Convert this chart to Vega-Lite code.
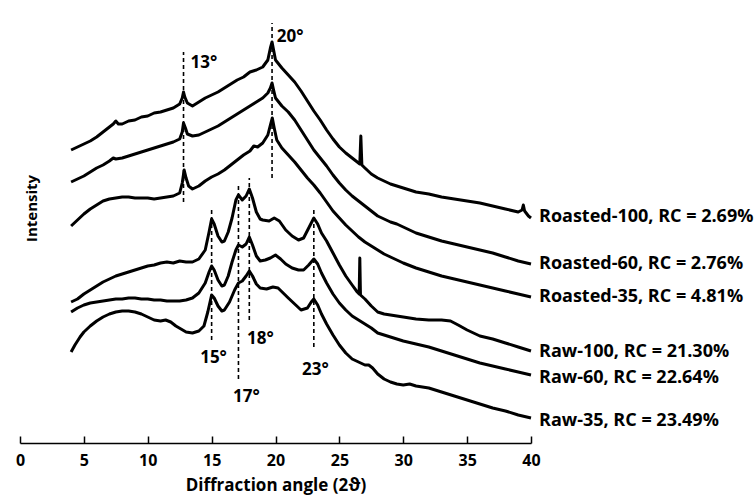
{
"$schema":"https://vega.github.io/schema/vega-lite/v6.json",
"width":511,"height":443,
"autosize":{"type":"none"},
"padding":{"left":20,"top":0,"right":225,"bottom":60},
"background":"white",
"config":{"view":{"stroke":null},"font":"Open Sans"},
"datasets":{
"curves":[
{"s":"A","a":4.0,"v":293},{"s":"A","a":4.5,"v":296},{"s":"A","a":5.0,"v":299},{"s":"A","a":5.5,"v":302},{"s":"A","a":6.0,"v":306},{"s":"A","a":6.5,"v":311},{"s":"A","a":7.0,"v":316},{"s":"A","a":7.3,"v":319},{"s":"A","a":7.5,"v":322},{"s":"A","a":7.7,"v":319},{"s":"A","a":8.0,"v":319},{"s":"A","a":8.5,"v":322},{"s":"A","a":9.0,"v":323},{"s":"A","a":9.5,"v":326},{"s":"A","a":10.0,"v":327},{"s":"A","a":10.5,"v":330},{"s":"A","a":11.0,"v":331},{"s":"A","a":11.5,"v":333},{"s":"A","a":12.0,"v":335},{"s":"A","a":12.5,"v":339},{"s":"A","a":12.7,"v":345},{"s":"A","a":12.8,"v":351},{"s":"A","a":12.9,"v":346},{"s":"A","a":13.1,"v":340},{"s":"A","a":13.5,"v":337},{"s":"A","a":14.0,"v":341},{"s":"A","a":14.5,"v":345},{"s":"A","a":15.0,"v":348},{"s":"A","a":15.5,"v":351},{"s":"A","a":16.0,"v":355},{"s":"A","a":16.5,"v":359},{"s":"A","a":17.0,"v":363},{"s":"A","a":17.5,"v":366},{"s":"A","a":18.0,"v":371},{"s":"A","a":18.5,"v":373},{"s":"A","a":19.0,"v":376},{"s":"A","a":19.4,"v":383},{"s":"A","a":19.6,"v":395},{"s":"A","a":19.73,"v":401},{"s":"A","a":19.85,"v":393},{"s":"A","a":20.0,"v":383},{"s":"A","a":20.5,"v":375},{"s":"A","a":21.0,"v":368},{"s":"A","a":21.5,"v":361},{"s":"A","a":22.0,"v":352},{"s":"A","a":22.5,"v":342},{"s":"A","a":23.0,"v":332},{"s":"A","a":23.5,"v":323},{"s":"A","a":24.0,"v":313},{"s":"A","a":24.5,"v":304},{"s":"A","a":25.0,"v":296},{"s":"A","a":25.5,"v":290},{"s":"A","a":26.0,"v":285},{"s":"A","a":26.6,"v":279},{"s":"A","a":26.68,"v":307},{"s":"A","a":26.76,"v":278},{"s":"A","a":27.0,"v":275},{"s":"A","a":27.5,"v":269},{"s":"A","a":28.0,"v":265},{"s":"A","a":28.5,"v":262},{"s":"A","a":29.0,"v":259},{"s":"A","a":29.5,"v":257},{"s":"A","a":30.0,"v":255},{"s":"A","a":31.0,"v":251},{"s":"A","a":32.0,"v":249},{"s":"A","a":33.0,"v":246},{"s":"A","a":34.0,"v":244},{"s":"A","a":35.0,"v":242},{"s":"A","a":36.0,"v":240},{"s":"A","a":37.0,"v":237},{"s":"A","a":38.0,"v":234},{"s":"A","a":39.0,"v":231},{"s":"A","a":39.3,"v":233},{"s":"A","a":39.4,"v":238},{"s":"A","a":39.5,"v":232},{"s":"A","a":39.8,"v":227},{"s":"A","a":40.0,"v":225},
{"s":"B","a":4.0,"v":261},{"s":"B","a":4.5,"v":264},{"s":"B","a":5.0,"v":267},{"s":"B","a":5.5,"v":271},{"s":"B","a":6.0,"v":275},{"s":"B","a":6.5,"v":278},{"s":"B","a":7.0,"v":282},{"s":"B","a":7.3,"v":285},{"s":"B","a":7.5,"v":284},{"s":"B","a":8.0,"v":285},{"s":"B","a":8.5,"v":287},{"s":"B","a":9.0,"v":289},{"s":"B","a":9.5,"v":291},{"s":"B","a":10.0,"v":293},{"s":"B","a":10.5,"v":295},{"s":"B","a":11.0,"v":297},{"s":"B","a":11.5,"v":299},{"s":"B","a":12.0,"v":301},{"s":"B","a":12.5,"v":304},{"s":"B","a":12.7,"v":311},{"s":"B","a":12.8,"v":320},{"s":"B","a":12.95,"v":315},{"s":"B","a":13.1,"v":309},{"s":"B","a":13.5,"v":307},{"s":"B","a":14.0,"v":308},{"s":"B","a":14.5,"v":311},{"s":"B","a":15.0,"v":314},{"s":"B","a":15.5,"v":317},{"s":"B","a":16.0,"v":321},{"s":"B","a":16.5,"v":325},{"s":"B","a":17.0,"v":329},{"s":"B","a":17.5,"v":333},{"s":"B","a":18.0,"v":337},{"s":"B","a":18.5,"v":341},{"s":"B","a":19.0,"v":345},{"s":"B","a":19.4,"v":350},{"s":"B","a":19.6,"v":355},{"s":"B","a":19.73,"v":360},{"s":"B","a":19.85,"v":353},{"s":"B","a":20.0,"v":345},{"s":"B","a":20.5,"v":337},{"s":"B","a":21.0,"v":331},{"s":"B","a":21.5,"v":323},{"s":"B","a":22.0,"v":313},{"s":"B","a":22.5,"v":303},{"s":"B","a":23.0,"v":293},{"s":"B","a":23.5,"v":285},{"s":"B","a":24.0,"v":277},{"s":"B","a":24.5,"v":268},{"s":"B","a":25.0,"v":260},{"s":"B","a":25.5,"v":253},{"s":"B","a":26.0,"v":247},{"s":"B","a":26.5,"v":242},{"s":"B","a":27.0,"v":237},{"s":"B","a":27.5,"v":232},{"s":"B","a":28.0,"v":227},{"s":"B","a":28.5,"v":224},{"s":"B","a":29.0,"v":221},{"s":"B","a":29.5,"v":219},{"s":"B","a":30.0,"v":216},{"s":"B","a":31.0,"v":210},{"s":"B","a":32.0,"v":206},{"s":"B","a":33.0,"v":202},{"s":"B","a":34.0,"v":199},{"s":"B","a":35.0,"v":196},{"s":"B","a":36.0,"v":193},{"s":"B","a":37.0,"v":190},{"s":"B","a":38.0,"v":186},{"s":"B","a":39.0,"v":182},{"s":"B","a":40.0,"v":179},
{"s":"C","a":4.0,"v":217},{"s":"C","a":4.5,"v":223},{"s":"C","a":5.0,"v":229},{"s":"C","a":5.5,"v":234},{"s":"C","a":6.0,"v":238},{"s":"C","a":6.5,"v":242},{"s":"C","a":7.0,"v":244},{"s":"C","a":7.5,"v":245},{"s":"C","a":8.0,"v":246},{"s":"C","a":8.5,"v":246},{"s":"C","a":9.0,"v":245},{"s":"C","a":9.5,"v":245},{"s":"C","a":10.0,"v":245},{"s":"C","a":10.5,"v":244},{"s":"C","a":11.0,"v":245},{"s":"C","a":11.5,"v":246},{"s":"C","a":12.0,"v":247},{"s":"C","a":12.5,"v":250},{"s":"C","a":12.7,"v":260},{"s":"C","a":12.85,"v":273},{"s":"C","a":13.0,"v":265},{"s":"C","a":13.2,"v":257},{"s":"C","a":13.5,"v":254},{"s":"C","a":14.0,"v":257},{"s":"C","a":14.5,"v":262},{"s":"C","a":15.0,"v":266},{"s":"C","a":15.5,"v":269},{"s":"C","a":16.0,"v":273},{"s":"C","a":16.5,"v":278},{"s":"C","a":17.0,"v":283},{"s":"C","a":17.5,"v":288},{"s":"C","a":18.0,"v":292},{"s":"C","a":18.3,"v":297},{"s":"C","a":18.6,"v":296},{"s":"C","a":19.0,"v":300},{"s":"C","a":19.4,"v":308},{"s":"C","a":19.6,"v":318},{"s":"C","a":19.75,"v":325},{"s":"C","a":19.9,"v":315},{"s":"C","a":20.1,"v":303},{"s":"C","a":20.5,"v":295},{"s":"C","a":21.0,"v":288},{"s":"C","a":21.5,"v":281},{"s":"C","a":22.0,"v":273},{"s":"C","a":22.5,"v":265},{"s":"C","a":23.0,"v":258},{"s":"C","a":23.5,"v":250},{"s":"C","a":24.0,"v":241},{"s":"C","a":24.5,"v":232},{"s":"C","a":25.0,"v":225},{"s":"C","a":25.5,"v":218},{"s":"C","a":26.0,"v":212},{"s":"C","a":26.5,"v":206},{"s":"C","a":27.0,"v":201},{"s":"C","a":27.5,"v":197},{"s":"C","a":28.0,"v":193},{"s":"C","a":28.5,"v":189},{"s":"C","a":29.0,"v":186},{"s":"C","a":29.5,"v":183},{"s":"C","a":30.0,"v":180},{"s":"C","a":31.0,"v":175},{"s":"C","a":32.0,"v":171},{"s":"C","a":33.0,"v":167},{"s":"C","a":34.0,"v":164},{"s":"C","a":35.0,"v":161},{"s":"C","a":36.0,"v":158},{"s":"C","a":37.0,"v":155},{"s":"C","a":38.0,"v":152},{"s":"C","a":39.0,"v":149},{"s":"C","a":40.0,"v":146},
{"s":"D","a":4.0,"v":141},{"s":"D","a":4.5,"v":144},{"s":"D","a":5.0,"v":149},{"s":"D","a":5.5,"v":153},{"s":"D","a":6.0,"v":157},{"s":"D","a":6.5,"v":161},{"s":"D","a":7.0,"v":164},{"s":"D","a":7.5,"v":167},{"s":"D","a":8.0,"v":169},{"s":"D","a":8.5,"v":171},{"s":"D","a":9.0,"v":173},{"s":"D","a":9.5,"v":175},{"s":"D","a":10.0,"v":177},{"s":"D","a":10.5,"v":178},{"s":"D","a":11.0,"v":180},{"s":"D","a":11.5,"v":181},{"s":"D","a":12.0,"v":180},{"s":"D","a":12.5,"v":182},{"s":"D","a":13.0,"v":181},{"s":"D","a":13.5,"v":181},{"s":"D","a":14.0,"v":184},{"s":"D","a":14.5,"v":193},{"s":"D","a":14.8,"v":211},{"s":"D","a":15.0,"v":224},{"s":"D","a":15.2,"v":219},{"s":"D","a":15.5,"v":207},{"s":"D","a":15.8,"v":201},{"s":"D","a":16.0,"v":202},{"s":"D","a":16.3,"v":211},{"s":"D","a":16.6,"v":225},{"s":"D","a":16.9,"v":243},{"s":"D","a":17.1,"v":248},{"s":"D","a":17.4,"v":243},{"s":"D","a":17.7,"v":247},{"s":"D","a":17.95,"v":254},{"s":"D","a":18.2,"v":245},{"s":"D","a":18.5,"v":231},{"s":"D","a":18.8,"v":224},{"s":"D","a":19.0,"v":223},{"s":"D","a":19.5,"v":222},{"s":"D","a":19.9,"v":225},{"s":"D","a":20.3,"v":222},{"s":"D","a":20.8,"v":213},{"s":"D","a":21.3,"v":207},{"s":"D","a":21.8,"v":203},{"s":"D","a":22.2,"v":205},{"s":"D","a":22.6,"v":215},{"s":"D","a":23.0,"v":225},{"s":"D","a":23.3,"v":219},{"s":"D","a":23.6,"v":210},{"s":"D","a":24.0,"v":202},{"s":"D","a":24.5,"v":190},{"s":"D","a":25.0,"v":178},{"s":"D","a":25.5,"v":167},{"s":"D","a":26.0,"v":158},{"s":"D","a":26.4,"v":151},{"s":"D","a":26.55,"v":149},{"s":"D","a":26.6,"v":185},{"s":"D","a":26.65,"v":148},{"s":"D","a":27.0,"v":144},{"s":"D","a":27.5,"v":137},{"s":"D","a":28.0,"v":131},{"s":"D","a":28.5,"v":129},{"s":"D","a":29.0,"v":128},{"s":"D","a":29.5,"v":127},{"s":"D","a":30.0,"v":126},{"s":"D","a":30.5,"v":125},{"s":"D","a":31.0,"v":124},{"s":"D","a":32.0,"v":123},{"s":"D","a":33.0,"v":123},{"s":"D","a":33.7,"v":122},{"s":"D","a":34.3,"v":118},{"s":"D","a":35.0,"v":113},{"s":"D","a":36.0,"v":107},{"s":"D","a":37.0,"v":104},{"s":"D","a":38.0,"v":100},{"s":"D","a":39.0,"v":96},{"s":"D","a":40.0,"v":92},
{"s":"E","a":4.0,"v":131},{"s":"E","a":4.5,"v":135},{"s":"E","a":5.0,"v":138},{"s":"E","a":5.5,"v":140},{"s":"E","a":6.0,"v":141},{"s":"E","a":6.5,"v":142},{"s":"E","a":7.0,"v":143},{"s":"E","a":7.5,"v":144},{"s":"E","a":8.0,"v":144},{"s":"E","a":8.5,"v":145},{"s":"E","a":9.0,"v":145},{"s":"E","a":9.5,"v":144},{"s":"E","a":10.0,"v":144},{"s":"E","a":10.5,"v":143},{"s":"E","a":11.0,"v":143},{"s":"E","a":11.5,"v":142},{"s":"E","a":12.0,"v":142},{"s":"E","a":12.5,"v":142},{"s":"E","a":13.0,"v":143},{"s":"E","a":13.5,"v":145},{"s":"E","a":14.0,"v":150},{"s":"E","a":14.5,"v":160},{"s":"E","a":14.8,"v":171},{"s":"E","a":15.0,"v":177},{"s":"E","a":15.2,"v":173},{"s":"E","a":15.5,"v":163},{"s":"E","a":15.8,"v":157},{"s":"E","a":16.0,"v":158},{"s":"E","a":16.3,"v":167},{"s":"E","a":16.6,"v":181},{"s":"E","a":16.9,"v":193},{"s":"E","a":17.1,"v":198},{"s":"E","a":17.4,"v":196},{"s":"E","a":17.7,"v":199},{"s":"E","a":17.95,"v":206},{"s":"E","a":18.2,"v":198},{"s":"E","a":18.5,"v":187},{"s":"E","a":18.8,"v":182},{"s":"E","a":19.2,"v":183},{"s":"E","a":19.6,"v":185},{"s":"E","a":20.0,"v":188},{"s":"E","a":20.4,"v":184},{"s":"E","a":20.8,"v":179},{"s":"E","a":21.3,"v":175},{"s":"E","a":21.8,"v":173},{"s":"E","a":22.2,"v":173},{"s":"E","a":22.6,"v":178},{"s":"E","a":23.0,"v":184},{"s":"E","a":23.3,"v":179},{"s":"E","a":23.6,"v":170},{"s":"E","a":24.0,"v":160},{"s":"E","a":24.5,"v":149},{"s":"E","a":25.0,"v":140},{"s":"E","a":25.5,"v":133},{"s":"E","a":26.0,"v":127},{"s":"E","a":26.5,"v":123},{"s":"E","a":27.0,"v":119},{"s":"E","a":27.5,"v":115},{"s":"E","a":28.0,"v":110},{"s":"E","a":29.0,"v":106},{"s":"E","a":30.0,"v":102},{"s":"E","a":31.0,"v":99},{"s":"E","a":32.0,"v":96},{"s":"E","a":33.0,"v":92},{"s":"E","a":34.0,"v":88},{"s":"E","a":35.0,"v":84},{"s":"E","a":36.0,"v":80},{"s":"E","a":37.0,"v":77},{"s":"E","a":38.0,"v":74},{"s":"E","a":39.0,"v":71},{"s":"E","a":40.0,"v":68},
{"s":"F","a":4.0,"v":91},{"s":"F","a":4.3,"v":98},{"s":"F","a":4.7,"v":106},{"s":"F","a":5.0,"v":111},{"s":"F","a":5.5,"v":117},{"s":"F","a":6.0,"v":122},{"s":"F","a":6.5,"v":126},{"s":"F","a":7.0,"v":129},{"s":"F","a":7.5,"v":131},{"s":"F","a":8.0,"v":132},{"s":"F","a":8.5,"v":132},{"s":"F","a":9.0,"v":131},{"s":"F","a":9.5,"v":129},{"s":"F","a":10.0,"v":126},{"s":"F","a":10.5,"v":123},{"s":"F","a":11.0,"v":122},{"s":"F","a":11.4,"v":123},{"s":"F","a":11.8,"v":121},{"s":"F","a":12.2,"v":117},{"s":"F","a":12.6,"v":114},{"s":"F","a":13.0,"v":111},{"s":"F","a":13.5,"v":110},{"s":"F","a":14.0,"v":112},{"s":"F","a":14.4,"v":117},{"s":"F","a":14.7,"v":131},{"s":"F","a":15.0,"v":148},{"s":"F","a":15.2,"v":145},{"s":"F","a":15.5,"v":137},{"s":"F","a":15.8,"v":132},{"s":"F","a":16.0,"v":133},{"s":"F","a":16.4,"v":141},{"s":"F","a":16.8,"v":153},{"s":"F","a":17.1,"v":160},{"s":"F","a":17.4,"v":162},{"s":"F","a":17.7,"v":167},{"s":"F","a":17.95,"v":172},{"s":"F","a":18.2,"v":167},{"s":"F","a":18.5,"v":159},{"s":"F","a":18.8,"v":155},{"s":"F","a":19.3,"v":154},{"s":"F","a":19.8,"v":156},{"s":"F","a":20.2,"v":155},{"s":"F","a":20.6,"v":150},{"s":"F","a":21.0,"v":145},{"s":"F","a":21.5,"v":139},{"s":"F","a":22.0,"v":133},{"s":"F","a":22.5,"v":135},{"s":"F","a":22.8,"v":141},{"s":"F","a":23.0,"v":144},{"s":"F","a":23.3,"v":138},{"s":"F","a":23.6,"v":129},{"s":"F","a":24.0,"v":119},{"s":"F","a":24.5,"v":108},{"s":"F","a":25.0,"v":98},{"s":"F","a":25.5,"v":90},{"s":"F","a":26.0,"v":84},{"s":"F","a":26.5,"v":81},{"s":"F","a":27.0,"v":78},{"s":"F","a":27.3,"v":78},{"s":"F","a":27.6,"v":75},{"s":"F","a":28.0,"v":69},{"s":"F","a":28.5,"v":64},{"s":"F","a":29.0,"v":61},{"s":"F","a":29.5,"v":59},{"s":"F","a":30.0,"v":58},{"s":"F","a":30.5,"v":59},{"s":"F","a":31.0,"v":57},{"s":"F","a":32.0,"v":55},{"s":"F","a":33.0,"v":51},{"s":"F","a":34.0,"v":47},{"s":"F","a":35.0,"v":43},{"s":"F","a":36.0,"v":39},{"s":"F","a":37.0,"v":35},{"s":"F","a":38.0,"v":32},{"s":"F","a":39.0,"v":28},{"s":"F","a":40.0,"v":25}
],
"dashes":[
{"a":12.8,"lo":241,"hi":391},
{"a":19.73,"lo":265,"hi":420},
{"a":15.0,"lo":103,"hi":235},
{"a":17.1,"lo":64,"hi":260},
{"a":17.95,"lo":123,"hi":265},
{"a":23.0,"lo":96,"hi":236}
],
"degs":[
{"a":14.4,"v":380,"t":"13°"},
{"a":21.15,"v":406,"t":"20°"},
{"a":15.15,"v":85,"t":"15°"},
{"a":17.72,"v":46,"t":"17°"},
{"a":18.82,"v":104,"t":"18°"},
{"a":23.12,"v":73,"t":"23°"}
],
"names":[
{"a":40,"v":226,"t":"Roasted-100, RC = 2.69%"},
{"a":40,"v":179,"t":"Roasted-60, RC = 2.76%"},
{"a":40,"v":146,"t":"Roasted-35, RC = 4.81%"},
{"a":40,"v":91,"t":"Raw-100, RC = 21.30%"},
{"a":40,"v":65,"t":"Raw-60, RC = 22.64%"},
{"a":40,"v":22,"t":"Raw-35, RC = 23.49%"}
]
},
"layer":[
{"data":{"name":"curves"},
 "mark":{"type":"line","color":"black","strokeWidth":3,"strokeJoin":"round","clip":false},
 "encoding":{
  "x":{"field":"a","type":"quantitative","scale":{"domain":[0,40],"nice":false,"zero":false},
   "axis":{"values":[0,5,10,15,20,25,30,35,40],"title":"Diffraction angle (2ϑ)","grid":false,
    "domainColor":"black","domainWidth":1.5,"tickColor":"black","tickWidth":1.5,"tickSize":-7,
    "labelPadding":16,"labelFont":"Open Sans","labelFontSize":16,"labelFontWeight":"bold","labelColor":"black","labelFlush":false,
    "titleFont":"Open Sans","titleFontSize":17,"titleFontWeight":"bold","titleColor":"black","titlePadding":9}},
  "y":{"field":"v","type":"quantitative","scale":{"domain":[0,443],"nice":false,"zero":false},
   "axis":{"title":"Intensity","domain":false,"ticks":false,"labels":false,"grid":false,
    "titleAngle":-90,"titleX":11,"titleY":208,"titleAlign":"center","titleBaseline":"middle",
    "titleFont":"Open Sans","titleFontSize":15,"titleFontWeight":"bold","titleColor":"black"}},
  "detail":{"field":"s","type":"nominal"}}},
{"data":{"name":"dashes"},
 "mark":{"type":"rule","color":"black","strokeDash":[4,3],"strokeWidth":1.6},
 "encoding":{"x":{"field":"a","type":"quantitative"},"y":{"field":"lo","type":"quantitative"},"y2":{"field":"hi"}}},
{"data":{"name":"degs"},
 "mark":{"type":"text","font":"Open Sans","fontSize":17,"fontWeight":"bold","align":"center","baseline":"middle","color":"black"},
 "encoding":{"x":{"field":"a","type":"quantitative"},"y":{"field":"v","type":"quantitative"},"text":{"field":"t"}}},
{"data":{"name":"names"},
 "mark":{"type":"text","font":"Open Sans","fontSize":18,"fontWeight":"bold","align":"left","baseline":"middle","dx":8,"color":"black"},
 "encoding":{"x":{"field":"a","type":"quantitative"},"y":{"field":"v","type":"quantitative"},"text":{"field":"t"}}}
]
}
